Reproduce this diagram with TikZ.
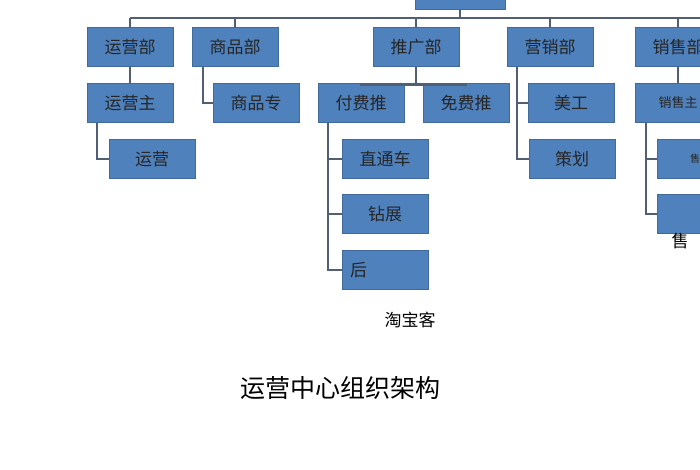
\documentclass[tikz,border=0pt]{standalone}
\usepackage{fontspec}
\newfontfamily\cjk{Noto Sans CJK SC}
\usetikzlibrary{positioning}
\definecolor{boxblue}{RGB}{79,129,189}
\definecolor{boxedge}{RGB}{65,105,155}
\definecolor{linkgray}{RGB}{80,95,115}
\tikzset{
  unit/.style={draw=boxedge, fill=boxblue, minimum width=86pt, minimum height=39pt,
    inner sep=2pt, font=\cjk\fontsize{17}{17}\selectfont, text=black!85},
  link/.style={draw=linkgray, line width=2.4pt}
}
\begin{document}
\begin{tikzpicture}[x=1pt, y=-1pt]
  \useasboundingbox (0,0) rectangle (700,470);
  \clip (0,0) rectangle (700,470);

  % Top
  \node[unit, minimum width=90pt] (top) at (460,-10) {运营中心};

  % Departments
  \node[unit] (ops) at (130,47) {运营部};
  \node[unit] (goods) at (235,47) {商品部};
  \node[unit] (promo) at (416,47) {推广部};
  \node[unit] (mkt) at (550,47) {营销部};
  \node[unit] (sales) at (678,47) {销售部};

  % Second row
  \node[unit] (opsh) at (130,103) {运营主};
  \node[unit] (goodsh) at (256,103) {商品专};
  \node[unit] (paid) at (361,103) {付费推};
  \node[unit] (free) at (466,103) {免费推};
  \node[unit] (art) at (571,103) {美工};
  \node[unit, font=\cjk\fontsize{13}{13}\selectfont] (salesh) at (678,103) {销售主};

  % Third row and below
  \node[unit] (opsx) at (152,159) {运营};
  \node[unit] (ztc) at (385,159) {直通车};
  \node[unit] (plan) at (572,159) {策划};
  \node[unit, font=\cjk\fontsize{10}{10}\selectfont] (pre) at (700,159) {售前};
  \node[unit] (zz) at (385,214) {钻展};
  \node[unit] (after) at (700,214) {};
  \node[font=\cjk\fontsize{17}{17}\selectfont] at (680,241) {售};
  \node[unit, text width=70pt] (hou) at (385,270) {后};

  \node[font=\cjk\fontsize{17}{17}\selectfont] (tbk) at (410,320) {淘宝客};
  \node[font=\cjk\fontsize{25}{25}\selectfont] (title) at (340,388) {运营中心组织架构};

  % Connectors
  \coordinate (bar) at (0,18);
  \draw[link] (top.south) -- (top.south |- bar) (ops.north |- bar) -- (720,18);
  \foreach \d in {ops,goods,promo,mkt,sales}
    \draw[link] (\d.north |- bar) -- (\d.north);
  \draw[link] (ops) -- (opsh);
  \draw[link] (sales) -- (salesh);
  \draw[link] ([xshift=-33pt]opsh.south) |- (opsx.west);
  \draw[link] ([xshift=-32pt]goods.south) |- (goodsh.west);
  \draw[link] (promo.south) -- ++(0,18) coordinate (pj);
  \draw[link] (paid.north) |- (pj) -| (free.north);
  \draw[link] ([xshift=-33pt]paid.south) |- (hou.west);
  \draw[link] ([xshift=-33pt]paid.south) |- (ztc.west);
  \draw[link] ([xshift=-33pt]paid.south) |- (zz.west);
  \draw[link] ([xshift=-33pt]mkt.south) |- (plan.west);
  \draw[link] ([xshift=-33pt]mkt.south) |- (art.west);
  \draw[link] ([xshift=-32pt]salesh.south) |- (after.west);
  \draw[link] ([xshift=-32pt]salesh.south) |- (pre.west);
\end{tikzpicture}
\end{document}
